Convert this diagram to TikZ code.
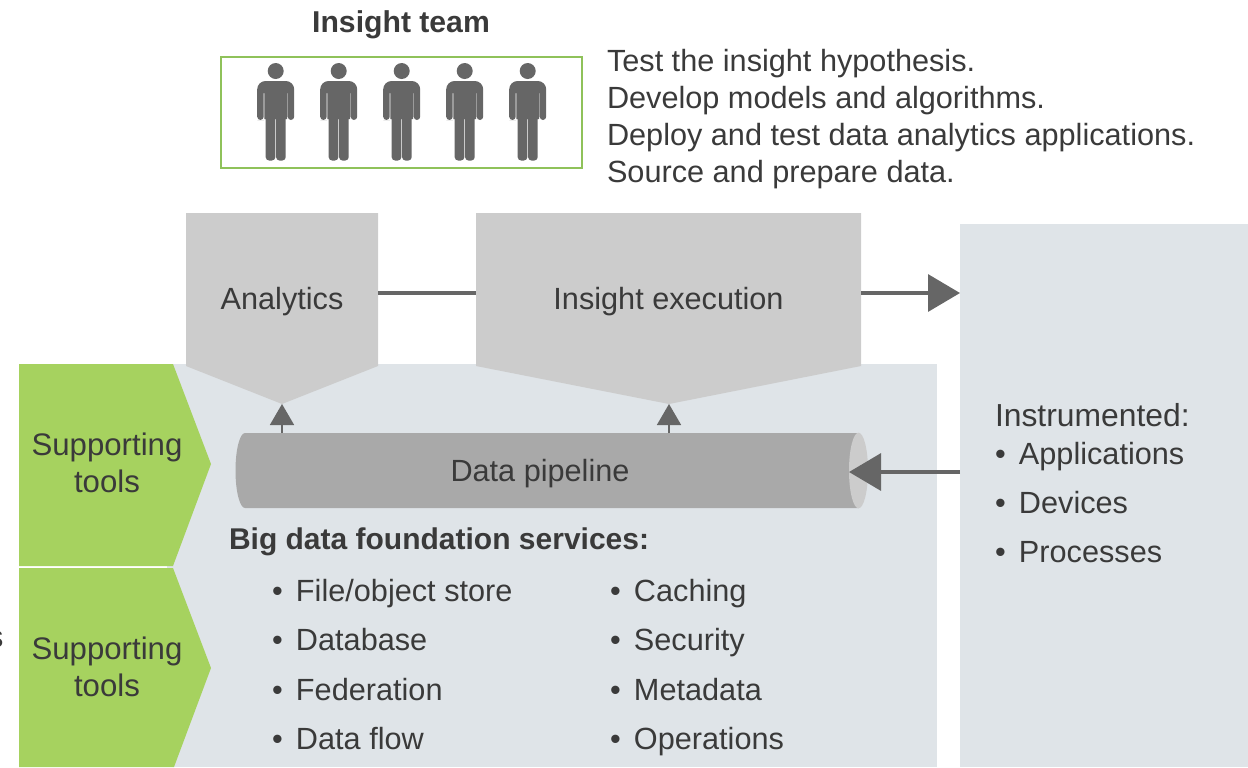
\documentclass[tikz,border=0pt]{standalone}
\usepackage{fontspec}
\setmainfont{Liberation Sans}
\usepackage{tikz}
\usetikzlibrary{arrows.meta}
\definecolor{inktext}{HTML}{3A3A3A}
\definecolor{leaf}{HTML}{A6D25F}
\definecolor{leafline}{HTML}{8FC25A}
\definecolor{pale}{HTML}{DFE4E8}
\definecolor{slab}{HTML}{CCCCCC}
\definecolor{pipebody}{HTML}{A9A9A9}
\definecolor{iron}{HTML}{666666}
\begin{document}
\begin{tikzpicture}
	[x=0.6pt,y=-0.6pt,
	word/.style={text=inktext,inner sep=0pt,outer sep=0pt,font=\fontsize{18.4}{22.2}\selectfont},
	word1/.style={word,font=\fontsize{18.7}{22.2}\selectfont},
	wordb/.style={word,font=\fontsize{18.1}{22.2}\selectfont\bfseries},
	entry/.style={word,anchor=base west},
	plate/.style={inner sep=0pt,outer sep=0pt,fill=pale},
	head1/.style={word,text height=24pt,text depth=4.8pt},
	link/.style={iron,line width=2pt},
	link1/.style={iron,line width=2pt,-{Triangle[length=19.2pt,width=22.2pt]}},
	link2/.style={iron,line width=1pt,-{Triangle[length=12.6pt,width=14.4pt]}}]
	\useasboundingbox (0,0) rectangle (1248,767);
	% paneles de fondo
	\node[plate,minimum width=462pt,minimum height=241.8pt] (foundation) at (552,565.5) {};
	\node[plate,minimum width=172.8pt,minimum height=325.8pt] (instrumented) at (1104,495.5) {};
	% herramientas
	\fill[leaf] (19,364) -- (173,364) -- (211,464) -- (173,566) -- (19,566) -- cycle;
	\fill[leaf] (19,568) -- (173,568) -- (211,668) -- (174,767) -- (19,767) -- cycle;
	\node[word1,align=center] (tools1) at (107,463) {Supporting\\tools};
	\node[word1,align=center] (tools2) at (107,667) {Supporting\\tools};
	\node[word,anchor=base east] (cutoff) at (3.5,647) {s};
	% equipo
	\node[wordb,anchor=base] (teamtitle) at (401,32) {Insight team};
	\node[draw=leafline,line width=1.2pt,inner sep=0pt,minimum width=216.6pt,minimum height=66.6pt] (team) at (401.5,112.5) {};
	\foreach \px in {275.7,338.7,401.7,464.7,527.7}{
		\begin{scope}[shift={(\px,0)}]
			\fill[iron] (0,71) circle (4.8pt);
			\fill[iron] [rounded corners=2pt] (-15,120) -- (-18.5,120) [rounded corners=5pt] -- (-18.5,81) -- (18.5,81) [rounded corners=2pt] -- (18.5,120) -- (12,120) [sharp corners] -- (12,93) -- (11.3,93) -- (11.3,119) -- (10,119) [rounded corners=2pt] -- (10,160.5) -- (0.4,160.5) [sharp corners] -- (0.4,119) -- (-0.4,119) [rounded corners=2pt] -- (-0.4,160.5) -- (-10,160.5) [sharp corners] -- (-10,119) -- (-11.3,119) -- (-11.3,93) -- (-12,93) [rounded corners=2pt] -- (-12,120) -- cycle;
		\end{scope}
	}
	\node[word,anchor=west,align=left] (tasks) at (607,119) {Test the insight hypothesis.\\Develop models and algorithms.\\Deploy and test data analytics applications.\\Source and prepare data.};
	% bloques grises
	\fill[slab] (186,213) -- (378,213) -- (378,366) -- (282,404) -- (186,366) -- cycle;
	\fill[slab] (476,213) -- (861,213) -- (861,366) -- (669,404) -- (476,366) -- cycle;
	\coordinate (analyticstip) at (282,404);
	\coordinate (insighttip) at (669,404);
	\node[head1,minimum width=115.2pt] (analytics) at (282,293) {Analytics};
	\node[head1,minimum width=231pt] (insight) at (668.5,293) {Insight execution};
	% tubo
	\fill[pipebody] (245,433) -- (858.5,433) -- (858.5,508) -- (245,508) arc (270:90:5.7pt and 22.5pt) -- cycle;
	\fill[slab] (858.5,470.5) ellipse (5.7pt and 22.7pt);
	\node[word,minimum width=379.2pt,minimum height=45pt,text depth=0pt] (pipe) at (552,470.5) {};
	\node[word,anchor=base] (pipename) at (540,481.5) {Data pipeline};
	\coordinate (pipecap) at (849,472);
	% flechas
	\draw[link] (analytics.east) -- (insight.west);
	\draw[link1] (insight.east) -- (insight.east -| instrumented.west);
	\draw[link1] (instrumented.west |- pipecap) -- (pipecap);
	\draw[link2] (analyticstip |- pipe.north) -- (analyticstip);
	\draw[link2] (insighttip |- pipe.north) -- (insighttip);
	% listas
	\node[wordb,anchor=base west,font=\fontsize{18}{22.2}\selectfont\bfseries] (foundtitle) at (229,549) {Big data foundation services:};
	\node[entry] (file) at (272,601) {\makebox[14.4pt][l]{•}File/object store};
	\node[entry] (database) at (272,650) {\makebox[14.4pt][l]{•}Database};
	\node[entry] (federation) at (272,700) {\makebox[14.4pt][l]{•}Federation};
	\node[entry] (dataflow) at (272,749) {\makebox[14.4pt][l]{•}Data flow};
	\node[entry] (caching) at (610,601) {\makebox[14.4pt][l]{•}Caching};
	\node[entry] (security) at (610,650) {\makebox[14.4pt][l]{•}Security};
	\node[entry] (metadata) at (610,700) {\makebox[14.4pt][l]{•}Metadata};
	\node[entry] (operations) at (610,749) {\makebox[14.4pt][l]{•}Operations};
	\node[entry,font=\fontsize{19.1}{22.2}\selectfont] (instrtitle) at (995,426) {Instrumented:};
	\node[entry] (applications) at (995,464) {\makebox[14.4pt][l]{•}Applications};
	\node[entry] (devices) at (995,513) {\makebox[14.4pt][l]{•}Devices};
	\node[entry] (processes) at (995,562) {\makebox[14.4pt][l]{•}Processes};
\end{tikzpicture}
\end{document}
